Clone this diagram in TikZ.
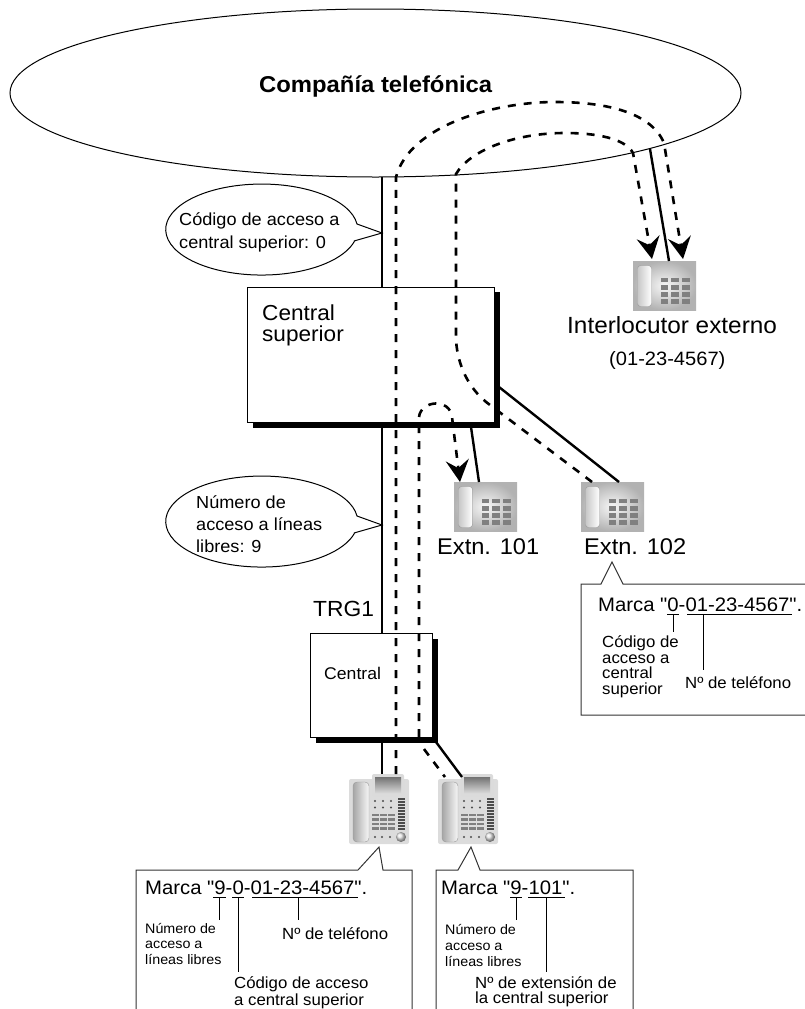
\documentclass[tikz,border=0pt]{standalone}
\usepackage{fontspec}
\newfontfamily\labelfont[FakeStretch=1.04]{Liberation Sans}
\usetikzlibrary{arrows.meta,shapes.geometric,shadows}
\definecolor{keygray}{HTML}{808080}
\definecolor{bodygray}{HTML}{DCDCDC}
\newcommand{\sizedtext}[2]{\labelfont\fontsize{#1}{#2}\selectfont}
\tikzset{
	lbl/.style={inner sep=0pt,anchor=base west,align=left},
	bigtext/.style={lbl,font=\sizedtext{21.8}{21}},
	marktext/.style={lbl,font=\sizedtext{19.6}{20}},
	notetext/.style={lbl,font=\sizedtext{16.2}{15.7}},
	tinytext/.style={lbl,font=\sizedtext{13.8}{15.7}},
	bubbletext/.style={lbl,font=\sizedtext{17.5}{22.5}},
	pbx/.style={draw,fill=white,line width=1bp,inner sep=0pt,anchor=north west,
		drop shadow={shadow xshift=5bp,shadow yshift=-5bp,fill=black,opacity=1}},
	trunk/.style={line width=2.4bp},
	voice/.style={line width=2.6bp,dash pattern=on 8bp off 8bp},
	thin line/.style={line width=1bp,draw=black!80},
	faxphone/.pic={
		\shade[inner color=black!3,outer color=black!30] (0,0) rectangle (63,49);
		\draw[draw=black!40,left color=black!22,right color=white,rounded corners=3bp] (4.5,4.5) rectangle (18.5,45.5);
		\foreach \kx in {27.7,38.3,49.3}
			\foreach \ky in {16.7,24,31,38}
				\fill[keygray] (\kx,\ky) rectangle +(7.5,4.6);
	},
	deskphone/.pic={
		\fill[bodygray,rounded corners=2bp] (0,5) rectangle (60,70);
		\fill[black!14,rounded corners=2bp] (23,0) rectangle (55,22);
		\shade[top color=black!55,bottom color=black!15] (26,3) rectangle (52,19);
		\draw[draw=black!40,left color=black!35,right color=black!3,rounded corners=4bp] (4,8) rectangle (20,68);
		\foreach \kx in {26,34,42}
			\foreach \ky in {27,33.5}
				\fill[black!70] (\kx,\ky) circle (1.1bp);
		\foreach \ky in {24,27,...,56}
			\fill[black!70] (49,\ky) rectangle +(7,2);
		\foreach \kx in {23,31,39}
			\foreach \ky in {39.5,44,48.5,53}
				\fill[black!50] (\kx,\ky) rectangle +(7,2.6);
		\foreach \kx in {26,33,41}
			\fill[black!70] (\kx,63) circle (1.1bp);
		\shade[ball color=black!12] (52,63) circle (5bp);
	}
}
\begin{document}
\begin{tikzpicture}[x=1bp,y=-1bp,>={Stealth[length=22bp,width=23bp,inset=8bp]}]
	\useasboundingbox (0,0) rectangle (805,1009);

	\node[draw,ellipse,line width=1bp,minimum width=731bp,minimum height=168bp,inner sep=0pt] (telco) at (375.5,93) {};
	\node[lbl,font=\sizedtext{23}{23}\bfseries] (telcotext) at (259,92) {Compañía telefónica};

	\node[pbx,minimum width=247bp,minimum height=135.5bp] (superior) at (247,286.5) {};
	\node[pbx,minimum width=122bp,minimum height=104bp] (central) at (310,633) {};
	\node[bigtext] (superiortext) at (262,320) {Central};
	\node[bigtext] (superiortextb) at (262,341) {superior};
	\node[lbl,font=\sizedtext{17}{17}] (centraltext) at (324,679) {Central};

	\pic at (633,261) {faxphone};
	\pic at (454,482) {faxphone};
	\pic at (581,482) {faxphone};
	\pic at (349,774) {deskphone};
	\pic at (438,774) {deskphone};

	\coordinate (telcoA) at (382,177);
	\coordinate (superiorA) at (382,286.5);
	\coordinate (superiorB) at (382,427);
	\coordinate (centralA) at (382,633);
	\coordinate (centralB) at (382,742);
	\coordinate (deskA) at (382,774);
	\coordinate (telcoB) at (650,149);
	\coordinate (faxA) at (669,261);
	\coordinate (superiorC) at (471,427);
	\coordinate (faxB) at (479,482);
	\coordinate (superiorD) at (499,387);
	\coordinate (faxC) at (619,482);
	\coordinate (centralC) at (436,742);
	\coordinate (deskB) at (462,777);

	\draw[trunk] (telcoA)--(superiorA);
	\draw[trunk] (superiorB)--(centralA);
	\draw[trunk] (centralB)--(deskA);
	\draw[trunk] (telcoB)--(faxA);
	\draw[trunk] (superiorC)--(faxB);
	\draw[trunk] (superiorD)--(faxC);
	\draw[trunk] (centralC)--(deskB);

	\coordinate (voiceA) at (396,774);
	\coordinate (voiceAend) at (683,259);
	\coordinate (voiceB) at (592,482);
	\coordinate (voiceBend) at (652,259);
	\coordinate (voiceC) at (419,737);
	\coordinate (voiceCend) at (460,482);
	\coordinate (voiceD) at (424,749);
	\coordinate (voiceDend) at (445,777);

	\draw[voice,->] (voiceA)--(396,177) .. controls (410,125) and (495,102) .. (555,102) .. controls (600,102) and (650,110) .. (664,143)--(voiceAend);
	\draw[voice,->] (voiceB)--(490,405) .. controls (472,392) and (458,370) .. (456,340)--(456,174) .. controls (470,150) and (515,133) .. (565,133) .. controls (595,133) and (625,138) .. (633,153)--(voiceBend);
	\draw[voice,->] (voiceC)--(419,417) .. controls (421,400) and (450,398) .. (452,417)--(voiceCend);
	\draw[voice] (voiceD)--(voiceDend);

	\draw[line width=1bp] (354,241)--(382,233)--(357,224) arc[start angle=-7,end angle=-345.4,x radius=96,y radius=45.5];
	\draw[line width=1bp] (354,533)--(382,525)--(357,516) arc[start angle=-7,end angle=-345.4,x radius=96,y radius=45.5];
	\node[bubbletext] (bubbleA) at (179,225) {Código de acceso a};
	\node[bubbletext] (bubbleAb) at (179,248) {central superior: 0};
	\node[bubbletext] (bubbleB) at (196,508) {Número de};
	\node[bubbletext] (bubbleBb) at (196,530) {acceso a líneas};
	\node[bubbletext] (bubbleBc) at (196,552) {libres: 9};

	\node[lbl,font=\sizedtext{23.5}{23}] (externo) at (567,333) {Interlocutor externo};
	\node[lbl,font=\sizedtext{19.4}{19}] (externonum) at (609,365) {(01-23-4567)};
	\node[lbl,font=\sizedtext{22.8}{23}] (extnA) at (437,554.5) {Extn. 101};
	\node[lbl,font=\sizedtext{22.8}{23}] (extnB) at (584,554.5) {Extn. 102};
	\node[lbl,font=\sizedtext{22}{22}] (trg) at (313,616) {TRG1};

	\draw[thin line] (136,1009)--(136,870)--(358,870)--(379,847)--(383,870)--(412,870)--(412,1009);
	\draw[thin line] (436,1009)--(436,870)--(458,870)--(471,847)--(480,870)--(633,870)--(633,1009);
	\draw[thin line] (805,584)--(623,584)--(612,562)--(601,584)--(581,584)--(581,715)--(805,715);

	\node[marktext] (markA) at (145,894) {Marca "9-0-01-23-4567".};
	\draw[line width=1bp] (213,897)--(226,897) (232,897)--(244,897) (252,897)--(358,897);
	\draw[line width=1bp] (219,897)--(219,920) (238,897)--(238,972) (298,897)--(298,920);
	\node[tinytext] (markAa) at (145,933) {Número de};
	\node[tinytext] (markAb) at (145,948.5) {acceso a};
	\node[tinytext] (markAc) at (145,964) {líneas libres};
	\node[notetext] (markAd) at (282,939) {Nº de teléfono};
	\node[notetext] (markAe) at (234,988) {Código de acceso};
	\node[notetext] (markAf) at (234,1005) {a central superior};

	\node[marktext] (markB) at (441,894) {Marca "9-101".};
	\draw[line width=1bp] (510,897)--(522,897) (528,897)--(565,897);
	\draw[line width=1bp] (516,897)--(516,920) (546,897)--(546,972);
	\node[tinytext] (markBa) at (445,934) {Número de};
	\node[tinytext] (markBb) at (445,950) {acceso a};
	\node[tinytext] (markBc) at (445,966) {líneas libres};
	\node[notetext] (markBd) at (475,988) {Nº de extensión de};
	\node[notetext] (markBe) at (475,1003) {la central superior};

	\node[marktext] (markC) at (598,611) {Marca "0-01-23-4567".};
	\draw[line width=1bp] (667,614)--(679,614) (687,614)--(792,614);
	\draw[line width=1bp] (673,614)--(673,632) (703,614)--(703,670);
	\node[notetext] (markCa) at (602,647) {Código de};
	\node[notetext] (markCb) at (602,663) {acceso a};
	\node[notetext] (markCc) at (602,678) {central};
	\node[notetext] (markCd) at (602,694) {superior};
	\node[notetext] (markCe) at (685,688) {Nº de teléfono};
\end{tikzpicture}
\end{document}
